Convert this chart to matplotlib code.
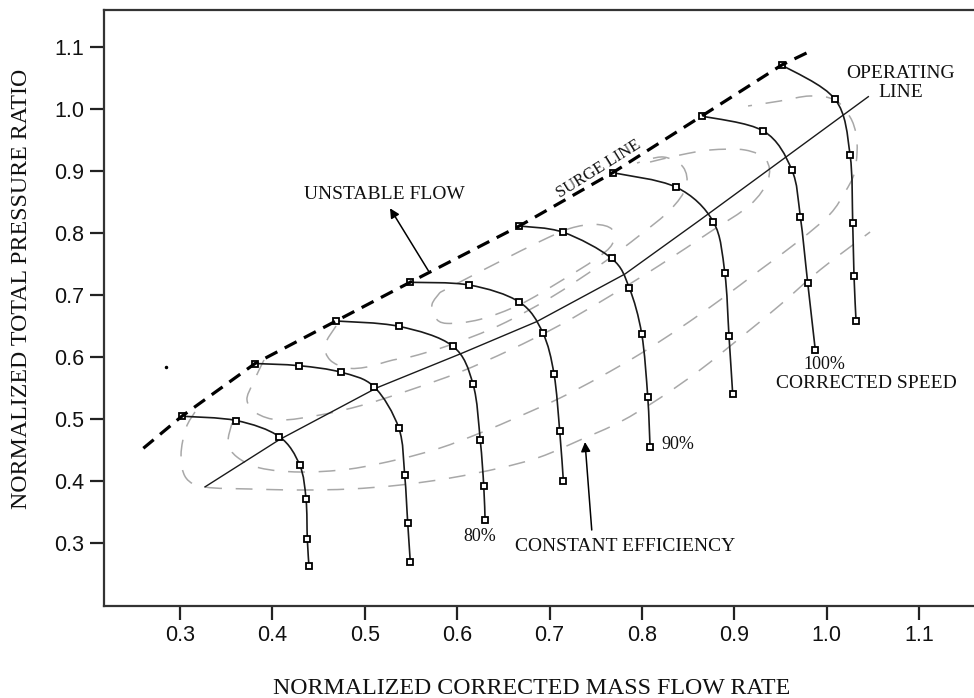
import numpy as np
import matplotlib.pyplot as plt
from matplotlib.path import Path
from matplotlib.patches import PathPatch

# ---- speed lines (normalized corrected mass flow, normalized pressure ratio)
l1_x = [0.302, 0.361, 0.4075, 0.4296, 0.4364, 0.4378, 0.4396]
l1_y = [0.504, 0.497, 0.471, 0.425, 0.370, 0.3055, 0.262]
l2_x = [0.3812, 0.429, 0.474, 0.510, 0.5368, 0.5432, 0.5465, 0.5493]
l2_y = [0.589, 0.5855, 0.575, 0.5516, 0.485, 0.409, 0.3313, 0.2684]
l3_x = [0.4689, 0.5368, 0.595, 0.6172, 0.625, 0.6288, 0.6302]
l3_y = [0.6576, 0.649, 0.6173, 0.5555, 0.4652, 0.391, 0.3366]
l4_x = [0.549, 0.6132, 0.6673, 0.6926, 0.7049, 0.711, 0.715]
l4_y = [0.72, 0.7156, 0.6882, 0.639, 0.5716, 0.4802, 0.399]
l5_x = [0.6673, 0.7149, 0.7673, 0.7863, 0.7998, 0.8063, 0.8088]
l5_y = [0.8108, 0.8006, 0.7584, 0.7111, 0.6366, 0.5355, 0.4548]
l6_x = [0.7684, 0.8371, 0.8773, 0.8897, 0.8943, 0.8983]
l6_y = [0.8968, 0.8734, 0.8177, 0.7355, 0.6326, 0.5393]
l7_x = [0.8648, 0.9315, 0.9622, 0.9715, 0.9795, 0.9877]
l7_y = [0.9882, 0.964, 0.9016, 0.8258, 0.7189, 0.6108]
l8_x = [0.9514, 1.0091, 1.0253, 1.0282, 1.0296, 1.0318]
l8_y = [1.0705, 1.0152, 0.9258, 0.8152, 0.7302, 0.658]

# surge line ends (the line runs through the first point of each speed line)
surge_start = (0.2603, 0.4523)
surge_end = (0.9812, 1.092)

# operating line
op_x = [0.327, 0.408, 0.5133, 0.605, 0.686, 0.7817, 0.8629, 1.0451]
op_y = [0.390, 0.4666, 0.55, 0.6055, 0.6565, 0.7334, 0.8205, 1.0194]

# constant efficiency contours
eff_a_x = [0.3162, 0.3065, 0.3011, 0.3065, 0.3271, 0.3758, 0.4299, 0.484, 0.5382, 0.5923,
           0.6464, 0.6897, 0.733, 0.7763, 0.8196, 0.8629, 0.9062, 0.9495, 0.9928, 1.047]
eff_a_y = [0.5108, 0.485, 0.4415, 0.4044, 0.3898, 0.3866, 0.385, 0.3866, 0.393, 0.4043,
           0.4205, 0.4382, 0.4656, 0.4947, 0.5334, 0.5786, 0.6302, 0.6834, 0.7399, 0.8011]
eff_b_x = [0.3563, 0.352, 0.3617, 0.3866, 0.4299, 0.484, 0.5382, 0.5815, 0.6248, 0.6681,
           0.7114, 0.7547, 0.798, 0.8413, 0.8846, 0.9279, 0.9712, 1.0037, 1.0199,
           1.0297, 1.0329, 1.0318, 1.0253, 1.0091, 0.982, 0.9495, 0.9149]
eff_b_y = [0.4931, 0.4608, 0.4382, 0.4205, 0.414, 0.4189, 0.435, 0.4527, 0.4769, 0.5043,
           0.5334, 0.5673, 0.6044, 0.6463, 0.6915, 0.7399, 0.7882, 0.8301, 0.8656,
           0.8946, 0.9302, 0.9592, 0.9866, 1.014, 1.0205, 1.0124, 1.0044]
eff_c_x = [0.3909, 0.379, 0.3725, 0.3823, 0.4083, 0.4516, 0.4981, 0.549, 0.6031, 0.6572,
           0.7114, 0.7655, 0.8196, 0.8737, 0.917, 0.9365, 0.9344, 0.9116, 0.8737, 0.8413, 0.8088]
eff_c_y = [0.5947, 0.5576, 0.5302, 0.5092, 0.4979, 0.506, 0.5221, 0.5463, 0.5753, 0.6108,
           0.6511, 0.6979, 0.7479, 0.8011, 0.8447, 0.885, 0.9173, 0.9334, 0.9334, 0.9253, 0.914]
eff_d_x = [0.4689, 0.457, 0.4624, 0.4808, 0.5024, 0.5306, 0.549, 0.5923, 0.6464, 0.7005,
           0.7547, 0.798, 0.8305, 0.8478, 0.8445, 0.8229, 0.7947]
eff_d_y = [0.6495, 0.6189, 0.5947, 0.5818, 0.5834, 0.5947, 0.5995, 0.6189, 0.6511, 0.6947,
           0.7479, 0.7963, 0.8366, 0.8737, 0.906, 0.9221, 0.9124]
eff_e_x = [0.5815, 0.5728, 0.5761, 0.589, 0.6248, 0.6681, 0.7114, 0.7493, 0.7677, 0.7677,
           0.7493, 0.7222, 0.6897, 0.6464, 0.6085, 0.5815]
eff_e_y = [0.7037, 0.6843, 0.6634, 0.6537, 0.6602, 0.6843, 0.7214, 0.7569, 0.7811, 0.8053,
           0.8134, 0.8069, 0.7859, 0.7537, 0.7247, 0.7037]

ticks = [0.3, 0.4, 0.5, 0.6, 0.7, 0.8, 0.9, 1.0, 1.1]

serif = 'Liberation Serif'
ink = '#111111'


def smooth(xs, ys):
    # Catmull-Rom curve through the points, as cubic Bezier segments
    p = np.column_stack([xs, ys])
    q = np.vstack([p[0], p, p[-1]])
    verts = [p[0]]
    codes = [Path.MOVETO]
    for i in range(len(p) - 1):
        c1 = q[i + 1] + (q[i + 2] - q[i]) / 6
        c2 = q[i + 2] - (q[i + 3] - q[i + 1]) / 6
        verts += [c1, c2, q[i + 2]]
        codes += [Path.CURVE4] * 3
    return Path(verts, codes)


fig = plt.figure(figsize=(9.74, 6.98), dpi=100)
ax = fig.add_axes([104 / 974, 92 / 698, 870 / 974, 596 / 698])

# efficiency contours
for cx, cy in [(eff_a_x, eff_a_y), (eff_b_x, eff_b_y), (eff_c_x, eff_c_y),
               (eff_d_x, eff_d_y), (eff_e_x, eff_e_y)]:
    ax.add_patch(PathPatch(smooth(cx, cy), fill=False, ec='#a8a8a8', lw=1.1,
                           ls=(0, (11, 9)), zorder=1))

# operating line
ax.plot(op_x, op_y, color='#1a1a1a', lw=1.0, zorder=2)

# surge line
lines = [(l1_x, l1_y), (l2_x, l2_y), (l3_x, l3_y), (l4_x, l4_y),
         (l5_x, l5_y), (l6_x, l6_y), (l7_x, l7_y), (l8_x, l8_y)]
surge_x = [surge_start[0]] + [lx[0] for lx, ly in lines] + [surge_end[0]]
surge_y = [surge_start[1]] + [ly[0] for lx, ly in lines] + [surge_end[1]]
ax.plot(surge_x, surge_y, color='black', lw=2.3, dashes=(4.2, 2.6), zorder=4)

# constant speed lines
for lx, ly in lines:
    ax.add_patch(PathPatch(smooth(lx, ly), fill=False, ec='#1a1a1a', lw=1.2, zorder=3))
    ax.plot(lx, ly, ls='none', marker='s', ms=5, mfc='white',
            mec='black', mew=1.3, zorder=3)

ax.plot([0.2845], [0.5839], marker='o', ms=1.5, color='black')

ax.set_xlim(0.2177, 1.1595)
ax.set_ylim(0.1979, 1.1592)
ax.set_xticks(ticks)
ax.set_yticks(ticks)
ax.set_xticklabels([f'{t:.1f}' for t in ticks])
ax.set_yticklabels([f'{t:.1f}' for t in ticks])
ax.tick_params(length=10, width=1.6, color='#222222', labelsize=15.5, pad=4,
               labelcolor='#111111')
for lab in ax.get_xticklabels() + ax.get_yticklabels():
    lab.set_family('Liberation Sans')
for side in ['left', 'bottom', 'top']:
    ax.spines[side].set_linewidth(1.6)
    ax.spines[side].set_color('#333333')
ax.spines['right'].set_visible(False)

fig.text(532 / 974, 1 - 688 / 698, 'NORMALIZED CORRECTED MASS FLOW RATE', family=serif,
         fontsize=17.2, color=ink, ha='center', va='center')
fig.text(22 / 974, 1 - 289 / 698, 'NORMALIZED TOTAL PRESSURE RATIO', family=serif,
         fontsize=17.2, color=ink, ha='center', va='center', rotation=90)

# annotations
arrow = dict(arrowstyle='-|>', color='black', lw=1.1, mutation_scale=14,
             shrinkA=0, shrinkB=0)
ax.text(0.5208, 0.8616, 'UNSTABLE FLOW', family=serif, fontsize=14, color=ink,
        ha='center', va='center')
ax.annotate('', xy=(0.5273, 0.8394), xytext=(0.5688, 0.7387), arrowprops=arrow)
ax.text(0.7536, 0.9027, 'SURGE LINE', family=serif, fontsize=12, color=ink,
        rotation=32, ha='center', va='center')
ax.text(1.0805, 1.0415, 'OPERATING\nLINE', family=serif, fontsize=14, color=ink,
        ha='center', va='center', linespacing=1.2)
ax.text(0.6248, 0.3108, '80%', family=serif, fontsize=13, color=ink,
        ha='center', va='center')
ax.text(0.8392, 0.4584, '90%', family=serif, fontsize=13, color=ink,
        ha='center', va='center')
ax.text(0.9971, 0.5867, '100%', family=serif, fontsize=13, color=ink,
        ha='center', va='center')
ax.text(1.0426, 0.5560, 'CORRECTED SPEED', family=serif, fontsize=14, color=ink,
        ha='center', va='center')
ax.text(0.7818, 0.2931, 'CONSTANT EFFICIENCY', family=serif, fontsize=14, color=ink,
        ha='center', va='center')
ax.annotate('', xy=(0.7384, 0.4624), xytext=(0.7457, 0.3205), arrowprops=arrow)

fig.savefig('out.png', dpi=100)
